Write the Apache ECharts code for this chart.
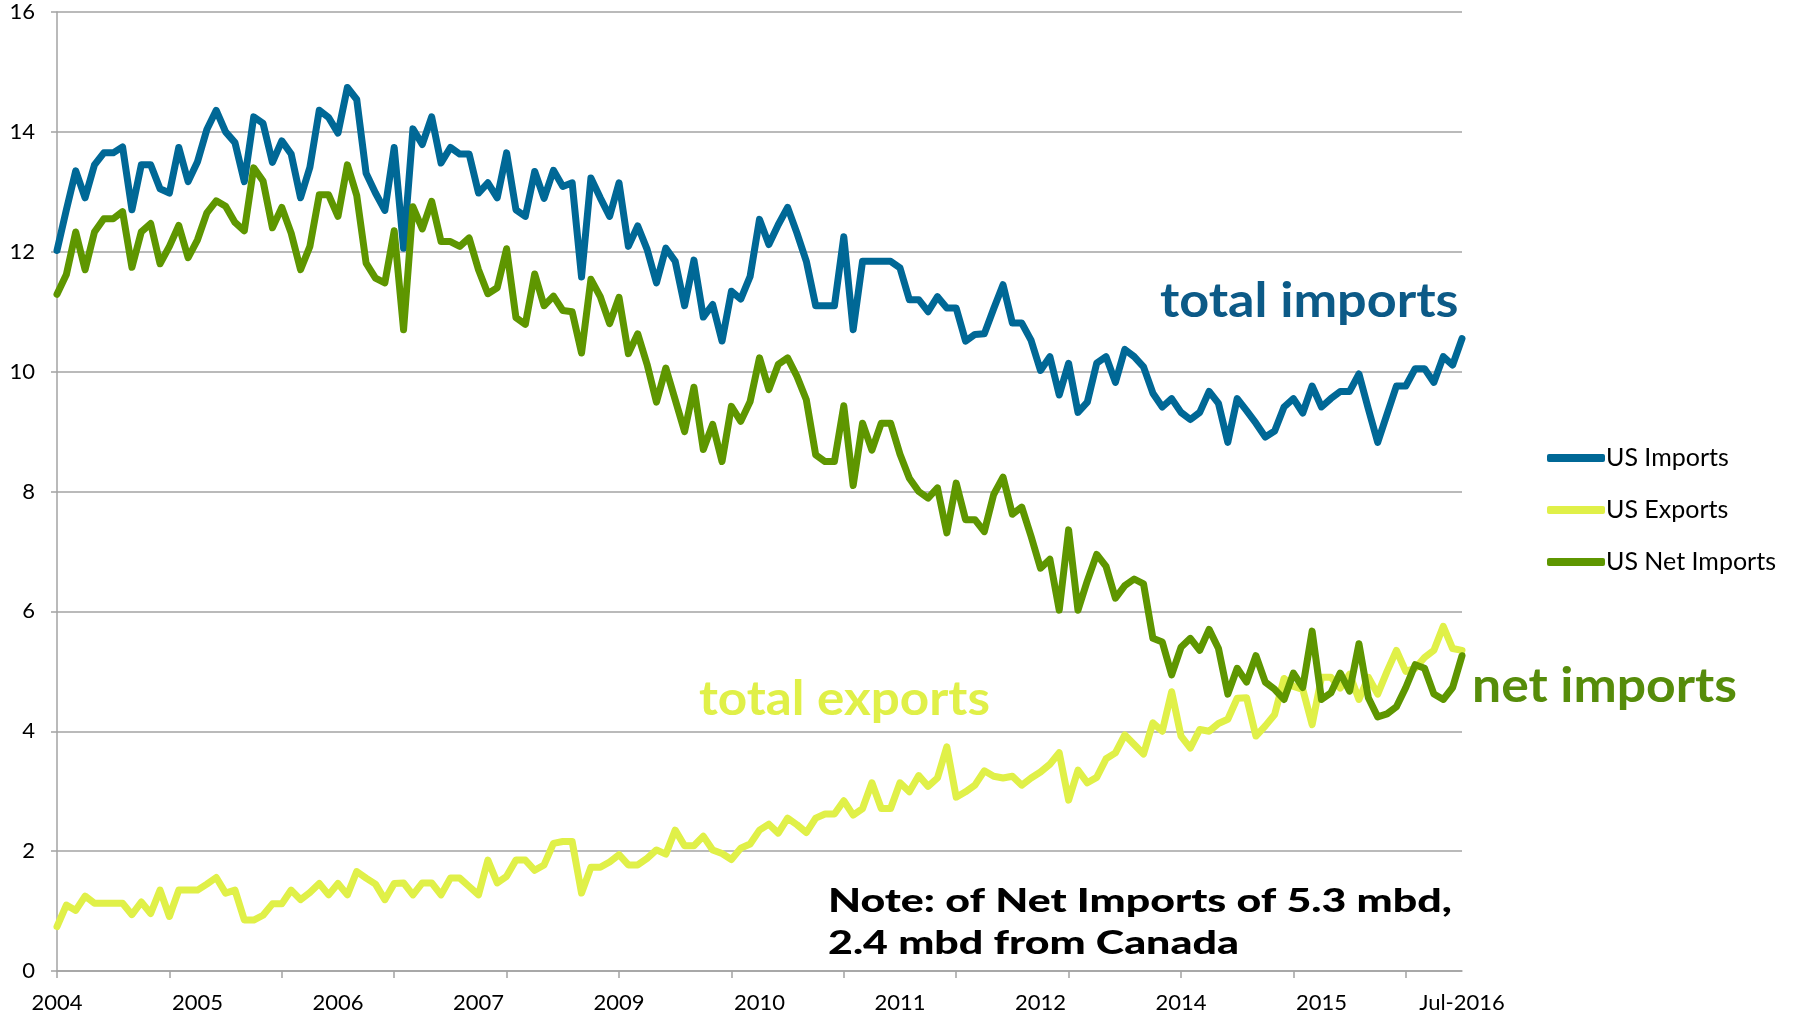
<!DOCTYPE html>
<html>
<head>
<meta charset="utf-8">
<script src="https://cdn.jsdelivr.net/npm/echarts@6/dist/echarts.min.js"></script>
<style>
  html, body { margin: 0; padding: 0; background: #fff; }
  #chart { width: 1796px; height: 1019px; }
</style>
</head>
<body>
<div id="chart"></div>
<script>
// monthly, Jan 2004 .. Jul 2016 (million barrels per day)
const months = []
for (let y = 2004; y <= 2016; y++) {
  for (let m = 1; m <= 12; m++) {
    if (y === 2016 && m > 7) break
    months.push(y + '-' + String(m).padStart(2, '0'))
  }
}

// excel shows a label every 15 months, a tick every 12
const tickLabels = ['2004', '2005', '2006', '2007', '2009', '2010', '2011', '2012', '2014', '2015', 'Jul-2016']
const labelStep = 15
const tickStep = 12

const usImports = [
  12.02, 12.7, 13.35, 12.9, 13.45, 13.65, 13.65, 13.75, 12.7, 13.45,
  13.45, 13.05, 12.98, 13.74, 13.17, 13.5, 14.04, 14.36, 14.0, 13.82,
  13.17, 14.25, 14.14, 13.49, 13.85, 13.63, 12.9, 13.41, 14.36, 14.24,
  13.98, 14.74, 14.54, 13.31, 12.98, 12.69, 13.74, 12.06, 14.05, 13.79,
  14.25, 13.48, 13.74, 13.63, 13.63, 12.98, 13.15, 12.9, 13.65, 12.7,
  12.59, 13.34, 12.89, 13.36, 13.09, 13.15, 11.58, 13.23, 12.9, 12.59,
  13.15, 12.09, 12.43, 12.04, 11.48, 12.06, 11.84, 11.1, 11.86, 10.91,
  11.12, 10.51, 11.34, 11.21, 11.59, 12.54, 12.12, 12.45, 12.74, 12.31,
  11.84, 11.1, 11.1, 11.1, 12.25, 10.7, 11.84, 11.84, 11.84, 11.84,
  11.73, 11.2, 11.2, 11.0, 11.25, 11.06, 11.06, 10.51, 10.62, 10.63,
  11.05, 11.45, 10.81, 10.81, 10.52, 10.02, 10.25, 9.61, 10.14, 9.32,
  9.49, 10.14, 10.25, 9.82, 10.37, 10.25, 10.08, 9.64, 9.41, 9.55,
  9.32, 9.2, 9.32, 9.67, 9.47, 8.82, 9.55, 9.35, 9.14, 8.91,
  9.01, 9.41, 9.55, 9.31, 9.76, 9.41, 9.55, 9.67, 9.67, 9.96,
  9.38, 8.82, 9.29, 9.76, 9.76, 10.05, 10.05, 9.82, 10.25, 10.11,
  10.55
]

const usExports = [
  0.74, 1.1, 1.01, 1.25, 1.13, 1.13, 1.13, 1.13, 0.94, 1.15,
  0.96, 1.35, 0.91, 1.35, 1.35, 1.35, 1.45, 1.56, 1.3, 1.35,
  0.85, 0.85, 0.93, 1.12, 1.12, 1.35, 1.19, 1.31, 1.46, 1.27,
  1.46, 1.27, 1.66, 1.55, 1.45, 1.19, 1.46, 1.47, 1.27, 1.47,
  1.47, 1.27, 1.55, 1.55, 1.41, 1.27, 1.85, 1.47, 1.58, 1.85,
  1.85, 1.68, 1.77, 2.13, 2.16, 2.16, 1.3, 1.73, 1.73, 1.82,
  1.94, 1.77, 1.77, 1.88, 2.02, 1.95, 2.35, 2.09, 2.09, 2.25,
  2.02, 1.96, 1.86, 2.05, 2.12, 2.35, 2.45, 2.3, 2.55, 2.44,
  2.31, 2.55, 2.62, 2.62, 2.84, 2.6, 2.71, 3.14, 2.71, 2.71,
  3.14, 2.99, 3.26, 3.08, 3.22, 3.74, 2.9, 2.99, 3.1, 3.34,
  3.25, 3.22, 3.25, 3.1, 3.22, 3.32, 3.45, 3.64, 2.85, 3.35,
  3.14, 3.23, 3.54, 3.64, 3.94, 3.78, 3.62, 4.14, 4.0, 4.66,
  3.92, 3.72, 4.03, 4.0, 4.13, 4.2, 4.55, 4.56, 3.92, 4.09,
  4.28, 4.88, 4.75, 4.7, 4.11, 4.9, 4.9, 4.72, 4.95, 4.53,
  4.9, 4.62, 5.0, 5.35, 5.0, 5.05, 5.23, 5.35, 5.75, 5.38,
  5.35
]

const usNetImports = [
  11.29, 11.62, 12.33, 11.7, 12.33, 12.55, 12.55, 12.67, 11.74, 12.33,
  12.47, 11.8, 12.09, 12.44, 11.9, 12.2, 12.65, 12.85, 12.76, 12.49,
  12.35, 13.4, 13.18, 12.4, 12.74, 12.31, 11.7, 12.09, 12.95, 12.95,
  12.59, 13.45, 12.94, 11.81, 11.56, 11.48, 12.35, 10.7, 12.75, 12.38,
  12.84, 12.17, 12.17, 12.09, 12.23, 11.7, 11.3, 11.4, 12.05, 10.9,
  10.79, 11.63, 11.1, 11.26, 11.02, 11.0, 10.31, 11.54, 11.25, 10.8,
  11.24, 10.3, 10.63, 10.12, 9.49, 10.06, 9.53, 9.0, 9.74, 8.7,
  9.12, 8.5, 9.42, 9.17, 9.5, 10.23, 9.7, 10.12, 10.23, 9.92,
  9.53, 8.61, 8.5, 8.5, 9.43, 8.1, 9.14, 8.69, 9.14, 9.14,
  8.62, 8.22, 8.0, 7.89, 8.06, 7.31, 8.14, 7.53, 7.53, 7.33,
  7.95, 8.24, 7.62, 7.74, 7.25, 6.72, 6.87, 6.02, 7.36, 6.02,
  6.51, 6.95, 6.75, 6.22, 6.43, 6.54, 6.46, 5.55, 5.49, 4.94,
  5.4, 5.55, 5.35, 5.7, 5.38, 4.62, 5.05, 4.82, 5.26, 4.82,
  4.7, 4.53, 4.97, 4.73, 5.67, 4.53, 4.64, 4.97, 4.67, 5.46,
  4.56, 4.24, 4.29, 4.41, 4.73, 5.11, 5.05, 4.62, 4.53, 4.73,
  5.26
]

const blue = '#006896'
const yellow = '#e0f048'
const green = '#5e9600'
const font = 'Lato'

const chart = echarts.init(document.getElementById('chart'))

const lineSeries = (name, data, color) => ({
  name: name,
  type: 'line',
  data: data,
  showSymbol: false,
  symbol: 'none',
  itemStyle: { color: color },
  lineStyle: { color: color, width: 7, cap: 'round', join: 'round' },
  emphasis: { disabled: true }
})

// big coloured labels inside the plot (gill sans is wider than lato, hence scaleX)
const note = (text, x, y, fill, font, sx) => ({
  type: 'text', x: x, y: y, scaleX: sx,
  style: { text: text, fill: fill, font: font, verticalAlign: 'middle' }
})

const option = {
  animation: false,
  backgroundColor: '#fff',
  grid: {
    left: 57,
    right: 334,
    top: 12,
    bottom: 48,
    containLabel: false
  },
  legend: {
    orient: 'vertical',
    left: 1542,
    top: 440,
    icon: 'roundRect',
    itemWidth: 58,
    itemHeight: 8,
    itemGap: 26,
    textStyle: {
      fontFamily: font,
      fontSize: 25,
      color: '#000',
      lineHeight: 26,
      padding: [0, 0, 0, -4]
    },
    data: ['US Imports', 'US Exports', 'US Net Imports']
  },
  xAxis: {
    type: 'category',
    data: months,
    boundaryGap: false,
    axisLine: { lineStyle: { color: '#a3a3a3', width: 1.5 } },
    axisTick: {
      show: true,
      length: 7,
      interval: (idx) => idx % tickStep === 0,
      lineStyle: { color: '#a3a3a3', width: 1.5 }
    },
    axisLabel: {
      interval: (idx) => idx % labelStep === 0,
      formatter: (val, idx) => tickLabels[idx / labelStep] || '',
      fontFamily: font,
      fontSize: 22,
      color: '#000',
      margin: 21,
      hideOverlap: false
    },
    splitLine: { show: false }
  },
  yAxis: {
    type: 'value',
    min: 0,
    max: 16,
    interval: 2,
    axisLine: { show: true, lineStyle: { color: '#a3a3a3', width: 1.5 } },
    axisTick: { show: true, length: 6, lineStyle: { color: '#a3a3a3', width: 1.5 } },
    axisLabel: {
      fontFamily: font,
      fontSize: 22,
      color: '#000',
      margin: 22
    },
    splitLine: { show: true, lineStyle: { color: '#a3a3a3', width: 1.5 } }
  },
  graphic: [
    note('total imports', 1160, 302, '#0c5a87', 'bold 47px Lato', 1.11),
    note('total exports', 699, 700, yellow, 'bold 47px Lato', 1.09),
    note('net imports', 1472, 687, '#568c0a', 'bold 47px Lato', 1.1),
    note('Note: of Net Imports of 5.3 mbd,', 828, 901, '#000', '900 33px Lato', 1.3),
    note('2.4 mbd from Canada', 828, 943, '#000', '900 33px Lato', 1.3)
  ],
  series: [
    lineSeries('US Imports', usImports, blue),
    lineSeries('US Exports', usExports, yellow),
    lineSeries('US Net Imports', usNetImports, green)
  ]
}

chart.setOption(option)

window.addEventListener('resize', () => {
  chart?.resize()
})
</script>
</body>
</html>
